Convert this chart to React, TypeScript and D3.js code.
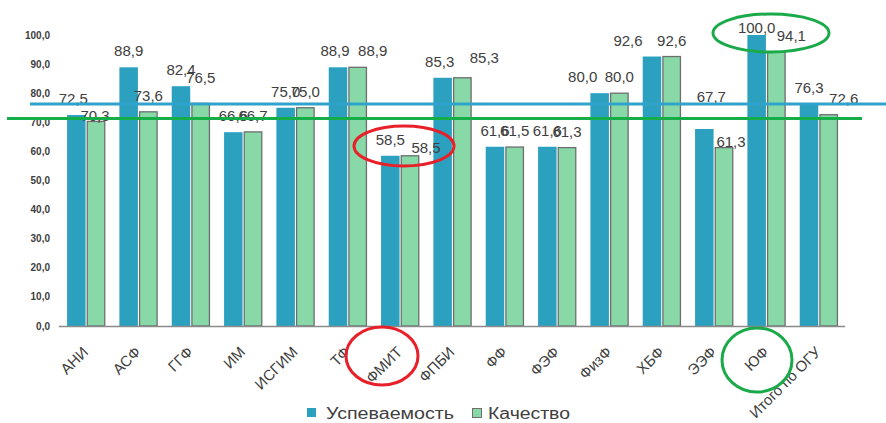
import React from "react";
import * as d3 from "d3";

const categories = ["АНИ", "АСФ", "ГГФ", "ИМ", "ИСГИМ", "ТФ", "ФМИТ", "ФПБИ", "ФФ", "ФЭФ", "ФизФ", "ХБФ", "ЭЭФ", "ЮФ", "Итого по ОГУ"];
const uspevaemost = [72.5, 88.9, 82.4, 66.6, 75.0, 88.9, 58.5, 85.3, 61.6, 61.6, 80.0, 92.6, 67.7, 100.0, 76.3];
const kachestvo = [70.3, 73.6, 76.5, 66.7, 75.0, 88.9, 58.5, 85.3, 61.5, 61.3, 80.0, 92.6, 61.3, 94.1, 72.6];
const seriesNames = ["Успеваемость", "Качество"];
const yTicks = [0, 10, 20, 30, 40, 50, 60, 70, 80, 90, 100];
const refLineValues = [76.3, 71.3];

const W = 886;
const H = 423;
const BLUE = "#2ca0bf";
const GREEN = "#88d8a8";
const STROKE = "#6e6e6e";
const TEXT = "#404040";
const FONT = "'Liberation Sans', Arial, sans-serif";

// manual label nudges (layout only), as in the reference where labels were dragged
const NUDGE: Record<string, [number, number]> = {
  "0|0": [-3, 0],
  "0|1": [-1, 11],
  "2|1": [0, -9],
  "5|0": [-3, 0],
  "5|1": [15, 0],
  "6|1": [16, 8],
  "7|0": [-3, 0],
  "7|1": [22, -4],
  "10|0": [-17, 0],
  "11|0": [-24, 0],
  "12|0": [7, -16],
  "12|1": [7, 10],
  "13|0": [0, 9],
  "13|1": [15, 0],
  "14|1": [15, 0],
};

const fmt = (v: number) => v.toFixed(1).replace(".", ",");

export default function App() {
  const x0 = d3.scaleBand<string>().domain(categories).range([60, 845]).paddingInner(0.27).paddingOuter(0.135);
  const x1 = d3.scaleBand<string>().domain(seriesNames).range([0, x0.bandwidth()]).paddingInner(0.06);
  const y = d3.scaleLinear().domain([0, 100]).range([326, 35]);
  const series = [uspevaemost, kachestvo];
  const colors = [BLUE, GREEN];

  return (
    <svg width={W} height={H} style={{ display: "block", position: "absolute", left: 0, top: 0, background: "#fff" }} fontFamily={FONT}>
      <rect x={0} y={0} width={W} height={H} fill="#fff" />
      {yTicks.map((t) => (
        <text key={t} x={50} y={y(t)} dy="0.35em" textAnchor="end" fontSize={10} fontWeight="bold" fill={TEXT}>
          {fmt(t)}
        </text>
      ))}
      {categories.map((c, i) => (
        <g key={c} transform={`translate(${x0(c)},0)`}>
          {series.map((s, k) => (
            <rect
              key={k}
              x={(x1(seriesNames[k]) as number) + (k === 1 ? 0.5 : 0)}
              y={y(s[i])}
              width={x1.bandwidth() - (k === 1 ? 1 : 0)}
              height={y(0) - y(s[i])}
              fill={colors[k]}
              stroke={k === 1 ? STROKE : "none"}
              strokeWidth={k === 1 ? 1.3 : 0}
            />
          ))}
        </g>
      ))}
      <line x1={59} x2={845} y1={y(0) + 0.5} y2={y(0) + 0.5} stroke="#8a8a8a" strokeWidth={1.5} />
      {categories.map((c, i) =>
        series.map((s, k) => {
          const n = NUDGE[`${i}|${k}`] || [0, 0];
          return (
            <text
              key={c + k}
              x={(x0(c) as number) + (x1(seriesNames[k]) as number) + x1.bandwidth() / 2 + n[0]}
              y={y(s[i]) - 11 + n[1]}
              textAnchor="middle"
              fontSize={15}
              fill={TEXT}
            >
              {fmt(s[i])}
            </text>
          );
        })
      )}
      {categories.map((c) => {
        const cx = (x0(c) as number) + x0.bandwidth() / 2 + 3;
        const cy = 353;
        return (
          <text key={c} x={cx} y={cy} transform={`rotate(-45,${cx},${cy})`} textAnchor="end" fontSize={15} fill={TEXT}>
            {c}
          </text>
        );
      })}
      <line x1={30} x2={886} y1={y(refLineValues[0])} y2={y(refLineValues[0])} stroke="#2fa3cc" strokeWidth={3} />
      <line x1={7} x2={862} y1={y(refLineValues[1])} y2={y(refLineValues[1])} stroke="#14ad48" strokeWidth={3} />
      <ellipse cx={404} cy={146} rx={50} ry={20} fill="none" stroke="#e8202a" strokeWidth={3} />
      <ellipse cx={382} cy={356} rx={36} ry={29} fill="none" stroke="#e8202a" strokeWidth={3} />
      <ellipse cx={771} cy={33} rx={58} ry={19} fill="none" stroke="#1aaa4a" strokeWidth={3} />
      <ellipse cx={757} cy={360} rx={35} ry={32} fill="none" stroke="#1aaa4a" strokeWidth={3} />
      <rect x={307} y={408} width={9} height={9} fill={BLUE} />
      <text x={326} y={413} dy="0.35em" fontSize={16} fill={TEXT} textLength={128} lengthAdjust="spacingAndGlyphs">{seriesNames[0]}</text>
      <rect x={472.5} y={408.5} width={9} height={9} fill={GREEN} stroke={STROKE} strokeWidth={1} />
      <text x={488} y={413} dy="0.35em" fontSize={16} fill={TEXT} textLength={82} lengthAdjust="spacingAndGlyphs">{seriesNames[1]}</text>
    </svg>
  );
}
